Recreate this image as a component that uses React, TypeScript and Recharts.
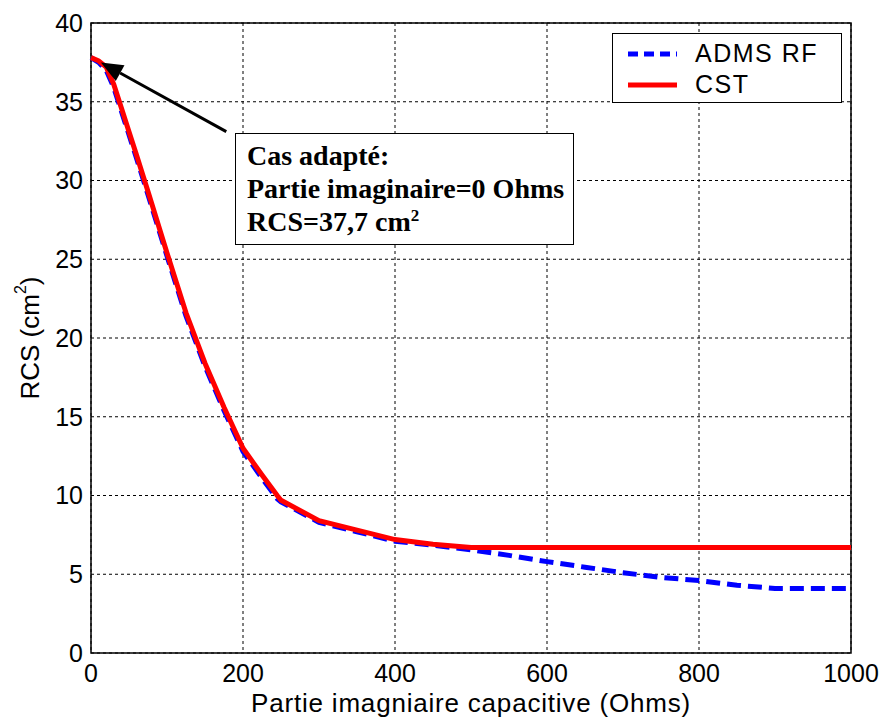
import React from 'react';
import {
  ComposedChart,
  Line,
  XAxis,
  YAxis,
  CartesianGrid,
  ReferenceArea,
  ReferenceLine,
} from 'recharts';

// imaginary part (Ohms)
const ohms = [0, 10, 20, 30, 40, 50, 60, 75, 100, 125, 150, 175, 200, 225, 245, 250, 300, 350, 400, 450, 500, 550, 600, 650, 700, 750, 800, 850, 900, 950, 1000];
// RCS in cm2
const admsRf = [37.8, 37.5, 37.0, 35.9, 34.4, 32.9, 31.4, 29.1, 25.2, 21.4, 18.2, 15.4, 12.8, 11.1, 9.8, 9.6, 8.3, 7.7, 7.1, 6.85, 6.55, 6.2, 5.8, 5.45, 5.1, 4.8, 4.6, 4.3, 4.1, 4.1, 4.1];
const cst = [37.8, 37.6, 37.2, 36.1, 34.6, 33.1, 31.6, 29.3, 25.4, 21.6, 18.4, 15.6, 13.0, 11.3, 10.0, 9.7, 8.4, 7.8, 7.2, 6.9, 6.7, 6.7, 6.7, 6.7, 6.7, 6.7, 6.7, 6.7, 6.7, 6.7, 6.7];

const seriesNames = ['ADMS RF', 'CST'];
const seriesColors = ['#0000ff', '#ff0000'];

const xTicks = [0, 200, 400, 600, 800, 1000];
const yTicks = [0, 5, 10, 15, 20, 25, 30, 35, 40];

// arrow from the annotation box to the matched case point
const arrowFrom = { x: 178, y: 33.1 };
const arrowTo = { x: 13, y: 37.5 };

const data = ohms.map((x, i) => ({ x, adms: admsRf[i], cst: cst[i] }));

const SANS = '"Liberation Sans", Arial, Helvetica, sans-serif';
const SERIF = '"Liberation Serif", "Times New Roman", serif';

const ArrowShape = (props: any) => {
  const { x1, y1, x2, y2 } = props;
  const ang = Math.atan2(y2 - y1, x2 - x1);
  const len = 22;
  const half = 9;
  const bx = x2 - len * Math.cos(ang);
  const by = y2 - len * Math.sin(ang);
  const px = -Math.sin(ang) * half;
  const py = Math.cos(ang) * half;
  return (
    <g>
      <line x1={x1} y1={y1} x2={bx} y2={by} stroke="#000" strokeWidth={3} />
      <polygon points={`${x2},${y2} ${bx + px},${by + py} ${bx - px},${by - py}`} fill="#000" />
    </g>
  );
};

const YLabel = (props: any) => {
  const vb = props.viewBox || {};
  const cx = 30;
  const cy = vb.y + vb.height / 2;
  return (
    <text
      x={cx}
      y={cy}
      transform={`rotate(-90, ${cx}, ${cy})`}
      textAnchor="middle"
      dominantBaseline="central"
      fontFamily={SANS}
      fontSize={26}
      fill="#000"
    >
      RCS (cm
      <tspan dy={-10} fontSize={16}>2</tspan>
      <tspan dy={10}>)</tspan>
    </text>
  );
};

export default function App() {
  return (
    <div style={{ position: 'absolute', left: 0, top: 0, width: 884, height: 717, background: '#fff' }}>
      <ComposedChart
        width={884}
        height={717}
        data={data}
        margin={{ top: 23, right: 33, left: 0, bottom: 0 }}
      >
        <CartesianGrid stroke="#000" strokeDasharray="3 3" strokeWidth={1} />
        <XAxis
          dataKey="x"
          type="number"
          domain={[0, 1000]}
          ticks={xTicks}
          height={64}
          tickLine={false}
          axisLine={false}
          tickSize={6}
          tickMargin={5}
          tick={{ fontSize: 25, fill: '#000', fontFamily: SANS }}
          label={{
            value: 'Partie imagniaire capacitive (Ohms)',
            position: 'insideBottom',
            offset: 5,
            fontSize: 26,
            fill: '#000',
            fontFamily: SANS,
            style: { letterSpacing: 0.8 },
          }}
        />
        <YAxis
          type="number"
          domain={[0, 40]}
          ticks={yTicks}
          width={91}
          tickLine={false}
          axisLine={false}
          tickSize={6}
          tickMargin={2}
          tick={{ fontSize: 25, fill: '#000', fontFamily: SANS }}
          label={<YLabel />}
        />
        <ReferenceArea x1={0} x2={1000} y1={0} y2={40} fill="none" fillOpacity={0} stroke="#000" strokeWidth={1.5} />
        <Line
          type="linear"
          dataKey="adms"
          name={seriesNames[0]}
          stroke={seriesColors[0]}
          strokeWidth={5}
          strokeDasharray="14 7"
          dot={false}
          isAnimationActive={false}
        />
        <Line
          type="linear"
          dataKey="cst"
          name={seriesNames[1]}
          stroke={seriesColors[1]}
          strokeWidth={5}
          dot={false}
          isAnimationActive={false}
        />
        <ReferenceLine segment={[arrowFrom, arrowTo]} shape={ArrowShape} />
      </ComposedChart>

      {/* legend */}
      <div
        style={{
          position: 'absolute',
          left: 612,
          top: 33,
          width: 230,
          height: 70,
          boxSizing: 'border-box',
          border: '1px solid #000',
          background: '#fff',
          padding: '4px 0 0 14px',
          fontFamily: SANS,
          fontSize: 25,
        }}
      >
        {seriesNames.map((name, i) => (
          <div key={name} style={{ display: 'flex', alignItems: 'center', height: 31 }}>
            <svg width={52} height={10} style={{ marginRight: 16 }}>
              <line
                x1={1}
                y1={5}
                x2={50}
                y2={5}
                stroke={seriesColors[i]}
                strokeWidth={5}
                strokeDasharray={i === 0 ? '10 6' : undefined}
              />
            </svg>
            <span style={{ color: '#000', letterSpacing: 1.5 }}>{name}</span>
          </div>
        ))}
      </div>

      {/* annotation */}
      <div
        style={{
          position: 'absolute',
          left: 235,
          top: 133,
          width: 339,
          height: 112,
          boxSizing: 'border-box',
          border: '1.5px solid #000',
          background: '#fff',
          padding: '5px 0 0 11px',
          fontFamily: SERIF,
          fontWeight: 'bold',
          fontSize: 28,
          lineHeight: '33px',
          color: '#000',
          whiteSpace: 'nowrap',
        }}
      >
        <div>Cas adapté:</div>
        <div>Partie imaginaire=0 Ohms</div>
        <div>
          RCS=37,7 cm<sup style={{ fontSize: 17, lineHeight: 0 }}>2</sup>
        </div>
      </div>
    </div>
  );
}
